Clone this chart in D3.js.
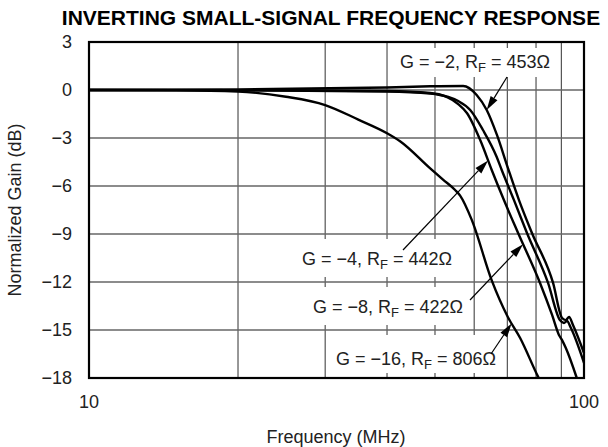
<!DOCTYPE html>
<html><head><meta charset="utf-8">
<script src="https://cdn.jsdelivr.net/npm/d3@7"></script>
<style>html,body{margin:0;padding:0;background:#fff}</style>
</head><body>
<svg id="chart" width="608" height="447"></svg>
<script>
// Axis ticks
const freqGrid = [10, 20, 30, 40, 50, 60, 70, 80, 90, 100];
const freqLabels = [10, 100];
const gainTicks = [3, 0, -3, -6, -9, -12, -15, -18];

// Frequency response, gain = -2 (RF = 453 ohm)
const freqG2 = [10, 20, 40, 48.9, 57.0, 60.7, 63.6, 66.7, 70.2, 73.9, 78.5, 86.6, 90.3, 91.9, 93.3, 95.0, 100];
const gainG2 = [0, 0.03, 0.16, 0.23, 0.25, -0.31, -1.25, -2.81, -4.88, -6.88, -8.94, -12.06, -14.25, -14.38, -14.19, -14.69, -16.44];

// gain = -4 (RF = 442 ohm)
const freqG4 = [10, 20, 40, 48.9, 52.9, 55.7, 58.9, 62.5, 66.6, 68.2, 72.2, 76.7, 84.6, 89.4, 91.1, 92.4, 94.1, 100];
const gainG4 = [0, -0.01, -0.06, -0.19, -0.41, -0.69, -1.25, -2.5, -4.17, -5.0, -6.88, -8.94, -12.06, -14.38, -14.56, -14.44, -14.88, -17.06];

// gain = -8 (RF = 422 ohm)
const freqG8 = [10, 20, 40, 48.9, 52.9, 55.7, 58.0, 61.7, 65.1, 68.9, 73.6, 81.5, 86.2, 89.0, 90.3, 91.9, 96.7];
const gainG8 = [0, -0.02, -0.09, -0.22, -0.44, -0.88, -1.44, -3.13, -5.0, -6.88, -8.94, -12.06, -14.06, -15.31, -15.63, -16.13, -18];

// gain = -16 (RF = 806 ohm)
const freqG16 = [10, 15, 20, 25, 30, 35, 40, 42.5, 48.9, 51.9, 54.9, 56.2, 59.3, 65.1, 70.2, 74.3, 80.7, 81.0];
const gainG16 = [0, -0.02, -0.1, -0.42, -0.94, -1.85, -2.7, -3.2, -4.9, -5.6, -6.25, -6.6, -8.1, -11.9, -14.2, -15.5, -17.9, -18];

const gainValues = ["−2", "−4", "−8", "−16"];
const rfValues = ["453", "442", "422", "806"];

const series = [
  {f: freqG2, g: gainG2},
  {f: freqG4, g: gainG4},
  {f: freqG8, g: gainG8},
  {f: freqG16, g: gainG16}
];

const svg = d3.select("#chart");
const margin = {left: 89, right: 24, top: 42, bottom: 69};
const W = 608, H = 447;
const x = d3.scaleLog().domain([10, 100]).range([margin.left, W - margin.right]);
const y = d3.scaleLinear().domain([-18, 3]).range([H - margin.bottom, margin.top]);
const font = "'Liberation Sans', Arial, Helvetica, sans-serif";

// Title
svg.append("text")
  .attr("x", 331).attr("y", 25)
  .attr("text-anchor", "middle")
  .attr("font-family", font).attr("font-weight", "bold").attr("font-size", 21)
  .text("INVERTING SMALL-SIGNAL FREQUENCY RESPONSE");

// Grid
const grid = svg.append("g");
grid.selectAll("line.v").data(freqGrid.slice(1, -1)).join("line")
  .attr("x1", d => x(d)).attr("x2", d => x(d))
  .attr("y1", y(3)).attr("y2", y(-18))
  .attr("stroke", "#444").attr("stroke-width", 1.1);

// Label boxes hide vertical grid lines, horizontal lines stay visible.
// tipSeries: curve the arrow head lands on; tipF: frequency of the arrow head.
const notes = [
  {i: 0, tx: 400, ty: 68, box: [392, 48, 560, 77], tail: [507, 77], tipSeries: 0, tipF: 63.6},
  {i: 1, tx: 302, ty: 265, box: [296, 239, 462, 277], tail: [403, 250], tipSeries: 2, tipF: 64.0},
  {i: 2, tx: 313, ty: 313, box: [307, 287, 472, 325], tail: [470, 300], tipSeries: 2, tipF: 75.3},
  {i: 3, tx: 336, ty: 365, box: [330, 335, 504, 373], tail: [491, 354], tipSeries: 3, tipF: 71.4}
];
svg.append("g").selectAll("rect").data(notes).join("rect")
  .attr("x", d => d.box[0]).attr("y", d => d.box[1])
  .attr("width", d => d.box[2] - d.box[0]).attr("height", d => d.box[3] - d.box[1])
  .attr("fill", "#fff");
grid.selectAll("line.h").data(gainTicks.slice(1, -1)).join("line")
  .attr("x1", x(10)).attr("x2", x(100))
  .attr("y1", d => y(d)).attr("y2", d => y(d))
  .attr("stroke", "#666").attr("stroke-width", 1.4);

// Curves
const line = d3.line().x(d => x(d[0])).y(d => y(d[1])).curve(d3.curveMonotoneX);
const plot = svg.append("g");
series.forEach(s => {
  plot.append("path")
    .datum(s.f.map((f, k) => [f, s.g[k]]))
    .attr("d", line)
    .attr("fill", "none").attr("stroke", "#000").attr("stroke-width", 2.4)
    .attr("stroke-linejoin", "round");
});

// Annotation text and arrows
function gainAt(s, f) {
  const lf = Math.log10(f);
  for (let k = 0; k < s.f.length - 1; k++) {
    const a = Math.log10(s.f[k]), b = Math.log10(s.f[k + 1]);
    if (lf >= a && lf <= b) return s.g[k] + (s.g[k + 1] - s.g[k]) * (lf - a) / (b - a);
  }
  return s.g[s.g.length - 1];
}
const ann = svg.append("g").attr("font-family", font).attr("font-size", 18).attr("fill", "#222");
notes.forEach(n => {
  const t = ann.append("text").attr("x", n.tx).attr("y", n.ty);
  t.append("tspan").text(`G = ${gainValues[n.i]}, R`);
  t.append("tspan").attr("font-size", 13).attr("dy", 4).text("F");
  t.append("tspan").attr("dy", -4).text(` = ${rfValues[n.i]}Ω`);

  const tip = [x(n.tipF), y(gainAt(series[n.tipSeries], n.tipF))];
  const dx = tip[0] - n.tail[0], dy = tip[1] - n.tail[1];
  const len = Math.hypot(dx, dy), ux = dx / len, uy = dy / len;
  const hl = 14, hw = 4;
  const base = [tip[0] - ux * hl, tip[1] - uy * hl];
  ann.append("line")
    .attr("x1", n.tail[0]).attr("y1", n.tail[1]).attr("x2", base[0]).attr("y2", base[1])
    .attr("stroke", "#000").attr("stroke-width", 1.2);
  ann.append("path")
    .attr("d", `M${tip[0]},${tip[1]}L${base[0] - uy * hw},${base[1] + ux * hw}L${base[0] + uy * hw},${base[1] - ux * hw}Z`)
    .attr("fill", "#000");
});

// Frame
svg.append("rect")
  .attr("x", x(10)).attr("y", y(3))
  .attr("width", x(100) - x(10)).attr("height", y(-18) - y(3))
  .attr("fill", "none").attr("stroke", "#000").attr("stroke-width", 2.2);

// Axis labels
const lab = svg.append("g").attr("font-family", font).attr("font-size", 18).attr("fill", "#222");
lab.selectAll("text.y").data(gainTicks).join("text")
  .attr("x", 72).attr("y", d => y(d)).attr("dy", "0.36em")
  .attr("text-anchor", "end")
  .text(d => d < 0 ? "−" + Math.abs(d) : String(d));
lab.selectAll("text.x").data(freqLabels).join("text")
  .attr("x", d => x(d)).attr("y", 408)
  .attr("text-anchor", "middle")
  .text(d => String(d));
lab.append("text").attr("x", 336).attr("y", 443).attr("text-anchor", "middle").text("Frequency (MHz)");
lab.append("text").attr("transform", "translate(21,210) rotate(-90)")
  .attr("text-anchor", "middle").text("Normalized Gain (dB)");
</script>
</body></html>
